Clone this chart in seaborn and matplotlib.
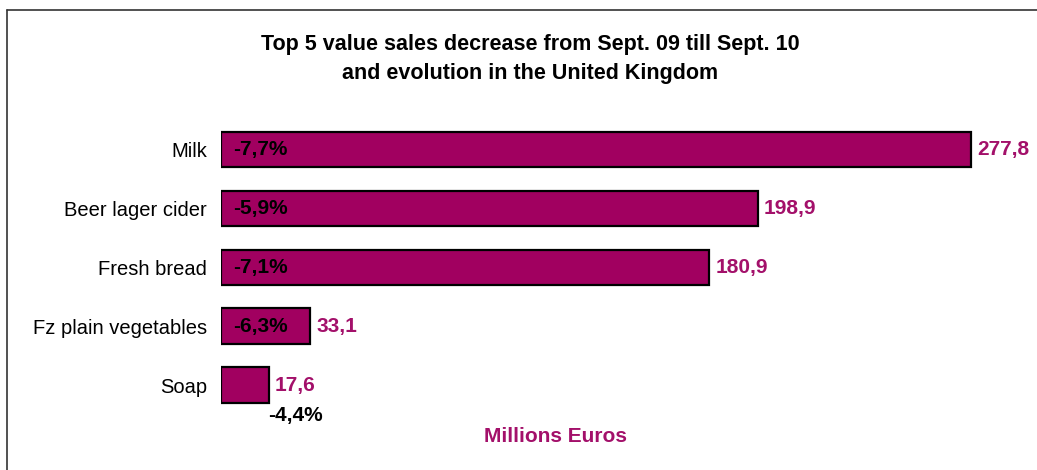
import matplotlib
matplotlib.use("Agg")
import matplotlib.pyplot as plt
from matplotlib.lines import Line2D
import seaborn as sns
import pandas as pd

categories = ["Milk", "Beer lager cider", "Fresh bread", "Fz plain vegetables", "Soap"]
sales = [277.8, 198.9, 180.9, 33.1, 17.6]
evolution = [-7.7, -5.9, -7.1, -6.3, -4.4]

BAR = "#A10060"
LABEL = "#A3106A"

sns.set_theme(style="white")
plt.rcParams["font.family"] = ["Liberation Sans", "DejaVu Sans"]
plt.rcParams["text.color"] = "black"
plt.rcParams["ytick.color"] = "black"
plt.rcParams["ytick.labelcolor"] = "black"

df = pd.DataFrame({"category": categories, "sales": sales})

fig = plt.figure(figsize=(10.37, 4.70), dpi=100)
ax = fig.add_axes([221 / 1037, 1 - 414.5 / 470, 810 / 1037, 294.5 / 470])

sns.barplot(data=df, y="category", x="sales", orient="h", color=BAR,
            saturation=1, width=0.6, edgecolor="black", linewidth=1.6, ax=ax)

ax.set_xlim(0, 300)
ax.set_ylim(4.5, -0.5)
ax.set_xlabel("")
ax.set_ylabel("")
ax.set_xticks([])
ax.tick_params(axis="y", length=0, pad=10, labelsize=14.5, labelcolor="black")
for s in ax.spines.values():
    s.set_visible(False)


def fmt(v):
    return f"{v:.1f}".replace(".", ",")


for i, (v, e) in enumerate(zip(sales, evolution)):
    ax.annotate(fmt(v), xy=(v, i), xytext=(6, 0), textcoords="offset pixels",
                ha="left", va="center", fontsize=15, fontweight="bold", color=LABEL)
    if v > 30:
        ax.annotate(fmt(e) + "%", xy=(0, i), xytext=(12, 0), textcoords="offset pixels",
                    ha="left", va="center", fontsize=15, fontweight="bold", color="black")
    else:
        ax.annotate(fmt(e) + "%", xy=(v, i + 0.3), xytext=(0, -3), textcoords="offset pixels",
                    ha="left", va="top", fontsize=15, fontweight="bold", color="black")

fig.text(530 / 1037, 1 - 59 / 470,
         "Top 5 value sales decrease from Sept. 09 till Sept. 10\nand evolution in the United Kingdom",
         ha="center", va="center", fontsize=15.5, fontweight="bold", linespacing=1.45,
         color="black")
fig.text(556 / 1037, 1 - 437 / 470, "Millions Euros", ha="center", va="center",
         fontsize=15, fontweight="bold", color=LABEL)

# frame around the chart area
fig.add_artist(Line2D([6.5 / 1037, 6.5 / 1037], [0, 1 - 10 / 470], color="#333333", lw=1.2))
fig.add_artist(Line2D([6.5 / 1037, 1], [1 - 10 / 470, 1 - 10 / 470], color="#333333", lw=1.2))

fig.savefig("out.png", dpi=100)
